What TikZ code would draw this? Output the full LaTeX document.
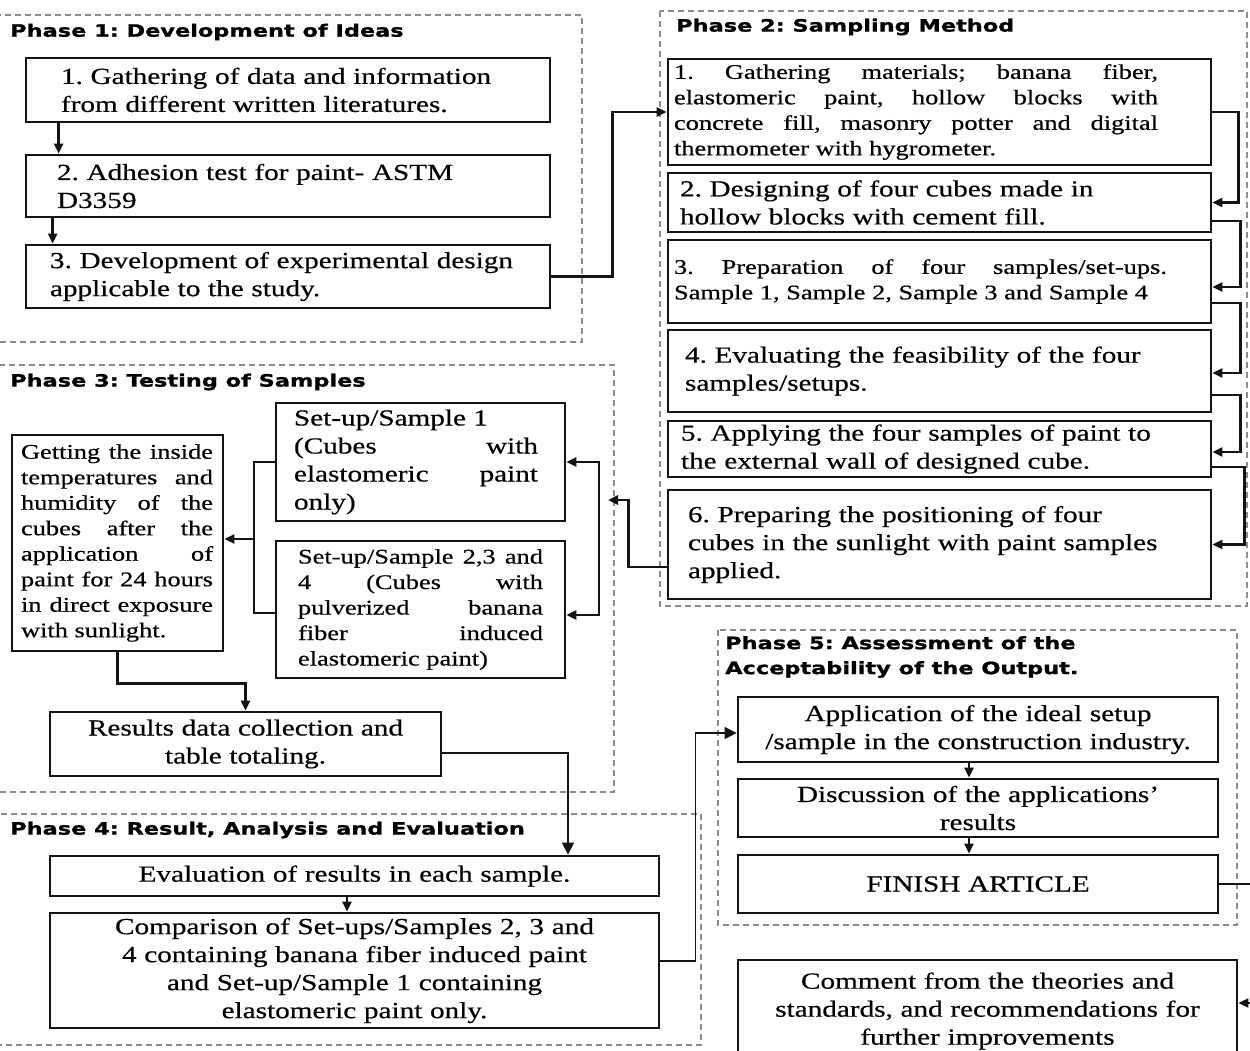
\documentclass[tikz,border=0pt]{standalone}
\usepackage{fontspec}
\setmainfont{Liberation Serif}[FakeStretch=1.27, FakeBold=0.5]
\newfontfamily\phasefont{DejaVu Sans}[FakeStretch=1.32, FakeBold=1.2]
\usepackage{tikz}
\usetikzlibrary{arrows.meta}
\definecolor{cInk}{HTML}{141414}
\definecolor{cFrame}{HTML}{8C8C8C}
\frenchspacing
\tolerance=10000
\hbadness=10000
\hyphenpenalty=10000
\exhyphenpenalty=10000
\tikzset{
  box/.style={draw=cInk, line width=2.8pt, inner sep=0pt, align=center,
              font=\fontsize{23}{28}\selectfont},
  smallfont/.style={font=\fontsize{20.8}{25.5}\selectfont},
  dims/.style 2 args={text width=#1pt, minimum height=#2pt},
  lbox/.style={box, align=left, execute at begin node={\leftskip=#1pt\relax}},
  jbox/.style 2 args={box, align=justify,
              execute at begin node={\leftskip=#1pt\rightskip=#2pt\relax}},
  frm/.style={draw=cFrame, line width=1.6pt, dash pattern=on 6pt off 4pt},
  ttl/.style={anchor=west, inner sep=0pt, align=left,
              font=\phasefont\bfseries\fontsize{17}{25}\selectfont},
  ln/.style={draw=cInk, line width=2.6pt},
  ar/.style={ln, -{Triangle[length=10pt,width=9pt]}},
  arthin/.style={draw=cInk, line width=1.3pt, -{Triangle[length=12pt,width=12pt]}}
}

\begin{document}
\begin{tikzpicture}[x=1pt, y=-1pt]
\path[use as bounding box, fill=white] (0,0) rectangle (1250,1050);
% phase frames
\draw[frm] (-3,15) rectangle (582,342);
\draw[frm] (660,11) rectangle (1247,606);
\draw[frm] (-3,365) rectangle (614,792);
\draw[frm] (-3,814) rectangle (701,1045);
\draw[frm] (718,630) rectangle (1237,925);
% titles
\node[ttl] (t1) at (10,32) {Phase 1: Development of Ideas};
\node[ttl] (t2) at (676,27) {Phase 2: Sampling Method};
\node[ttl] (t3) at (10,382) {Phase 3: Testing of Samples};
\node[ttl] (t4) at (10,830) {Phase 4: Result, Analysis and Evaluation};
\node[ttl] (t5) at (725,657) {Phase 5: Assessment of the\\Acceptability of the Output.};
% phase 1
\node[lbox=35, dims={524}{64}] (p1a) at (288,90) {1. Gathering of data and information\\from different written literatures.};
\node[lbox=31, dims={524}{62}] (p1b) at (288,186) {2. Adhesion test for paint- ASTM\\D3359};
\node[lbox=24, dims={524}{63}] (p1c) at (288,276.5) {3. Development of experimental design\\applicable to the study.};
% phase 2
\node[jbox={6}{53}, smallfont, dims={543}{106}] (q1) at (939.5,112) {1. Gathering materials; banana fiber,\linebreak elastomeric paint, hollow blocks with\linebreak concrete fill, masonry potter and digital\linebreak thermometer with hygrometer.};
\node[lbox=12, dims={543}{59}] (q2) at (939.5,202.5) {2. Designing of four cubes made in\\hollow blocks with cement fill.};
\node[jbox={6}{44}, smallfont, dims={543}{83}] (q3) at (939.5,281.5) {3.~Preparation of four samples/set-ups.\linebreak Sample 1, Sample 2, Sample 3 and Sample~4};
\node[lbox=17, dims={543}{82}] (q4) at (939.5,371) {4. Evaluating the feasibility of the four\\samples/setups.};
\node[lbox=13, dims={543}{56}] (q5) at (939.5,449) {5. Applying the four samples of paint to\\the external wall of designed cube.};
\node[lbox=20, dims={543}{109}] (q6) at (939.5,544.5) {6. Preparing the positioning of four\\cubes in the sunlight with paint samples\\applied.};
% phase 3
\node[jbox={9}{10}, smallfont, dims={211}{216}] (lb) at (117.5,543) {Getting the inside\linebreak temperatures and\linebreak humidity of the\linebreak cubes after the\linebreak application of\linebreak paint for 24 hours\linebreak in direct exposure\linebreak with sunlight.};
\node[jbox={18}{27}, dims={289}{118}] (s1) at (420.5,462) {Set-up/Sample 1\par (Cubes with\linebreak elastomeric paint\linebreak only)};
\node[jbox={22}{22}, smallfont, dims={289}{137}] (s2) at (420.5,609.5) {Set-up/Sample 2,3 and\linebreak 4 (Cubes with\linebreak pulverized banana\linebreak fiber induced\linebreak elastomeric paint)};
\node[box, dims={391}{64}] (res) at (245.5,744) {Results data collection and\\table totaling.};
% phase 4
\node[box, dims={609}{40}] (eval) at (354.5,876) {Evaluation of results in each sample.};
\node[box, dims={609}{115}] (comp) at (354.5,970.5) {Comparison of Set-ups/Samples 2, 3 and\\4 containing banana fiber induced paint\\and Set-up/Sample 1 containing\\elastomeric paint only.};
% phase 5
\node[box, dims={480}{65}] (app) at (978,729.5) {Application of the ideal setup\\/sample in the construction industry.};
\node[box, dims={480}{58}] (disc) at (978,808) {Discussion of the applications'\\results};
\node[box, dims={480}{58}] (fin) at (978,884) {FINISH ARTICLE};
\node[box, dims={499}{102}] (cmt) at (987.5,1011) {Comment from the theories and\\standards, and recommendations for\\further improvements};
% connectors, phase 1
\draw[ar] ([xshift=34pt]p1a.south west) -- ([xshift=34pt]p1b.north west);
\draw[ar] ([xshift=28pt]p1b.south west) -- ([xshift=28pt]p1c.north west);
\draw[ar] (p1c.east) -- ++(61,0) |- (q1.west);
% connectors, phase 2 (right side chain)
\foreach \a/\b/\s/\t/\d in {q1/q2/0/0/26, q2/q3/18.5/5.5/28, q3/q4/21.5/2/28, q4/q5/24/3/28, q5/q6/18/0/32}
  \draw[ar] ([yshift=-\s pt]\a.east) -- ++(\d,0) |- ([yshift=-\t pt]\b.east);
\coordinate (in3) at (608,500);
\draw[ar] ([yshift=-22.5pt]q6.west) -- ++(-38,0) |- (in3);
% connectors, phase 3
\coordinate (bus) at (599,500);
\draw[ar] (bus) |- (s1.east);
\draw[ar] (bus) |- ([yshift=-5.5pt]s2.east);
\coordinate (lbus) at (254,539);
\draw[ln] (s1.west) -| (lbus) |- ([yshift=-3.5pt]s2.west);
\draw[ar] (lbus) -- ([yshift=4pt]lb.east);
\draw[ar] (lb.south) -- ++(0,31) -| (res.north);
\draw[arthin] ([yshift=-9pt]res.east) -| ([xshift=213.5pt]eval.north);
% connectors, phase 4 and 5
\draw[ar] ([xshift=-7.5pt]eval.south) -- ([xshift=-7.5pt]comp.north);
\draw[arthin] ([yshift=9.5pt]comp.east) -- ++(35,0) |- ([yshift=-3.5pt]app.west);
\draw[ar] ([xshift=-9pt]app.south) -- ([xshift=-9pt]disc.north);
\draw[ar] ([xshift=-9pt]disc.south) -- ([xshift=-9pt]fin.north);
\draw[ar, line width=2pt] (fin.east) -- ++(38,0) |- ([yshift=8pt]cmt.east);
\end{tikzpicture}
\end{document}
